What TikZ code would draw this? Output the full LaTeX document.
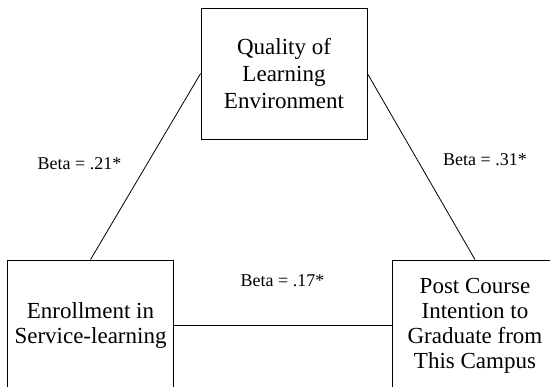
\documentclass[tikz,border=0pt]{standalone}
\usepackage{fontspec}
\setmainfont{Liberation Serif}
\usepackage{tikz}

\tikzset{
  factor/.style={draw, line width=0.8pt, minimum width=166pt, minimum height=131pt,
    inner sep=0pt, align=center, font=\fontsize{23}{25}\selectfont},
  beta/.style={inner sep=0pt, font=\fontsize{18}{20}\selectfont}
}

\begin{document}
\begin{tikzpicture}[x=1pt, y=-1pt, line width=0.8pt]
      \clip (0,0) rectangle (550,387);

      \node[factor, font=\fontsize{23}{27}\selectfont] (quality) at (284,73.5) {Quality of\\Learning\\Environment};
      \node[factor] (enroll) at (90.5,325.5) {Enrollment in\\Service-learning};
      \node[factor] (intent) at (475,325.5) {Post Course\\Intention to\\Graduate from\\This Campus};

      \draw (enroll.north) -- (quality.west);
      \draw (quality.east) -- (intent.north);
      \draw (enroll.east)  -- (intent.west);

      \node[beta] (betaql) at (79.5,164) {Beta = .21*};
      \node[beta] (betaqi) at (485,159.5) {Beta = .31*};
      \node[beta] (betaei) at (282.5,281) {Beta = .17*};

    \end{tikzpicture}
\end{document}
